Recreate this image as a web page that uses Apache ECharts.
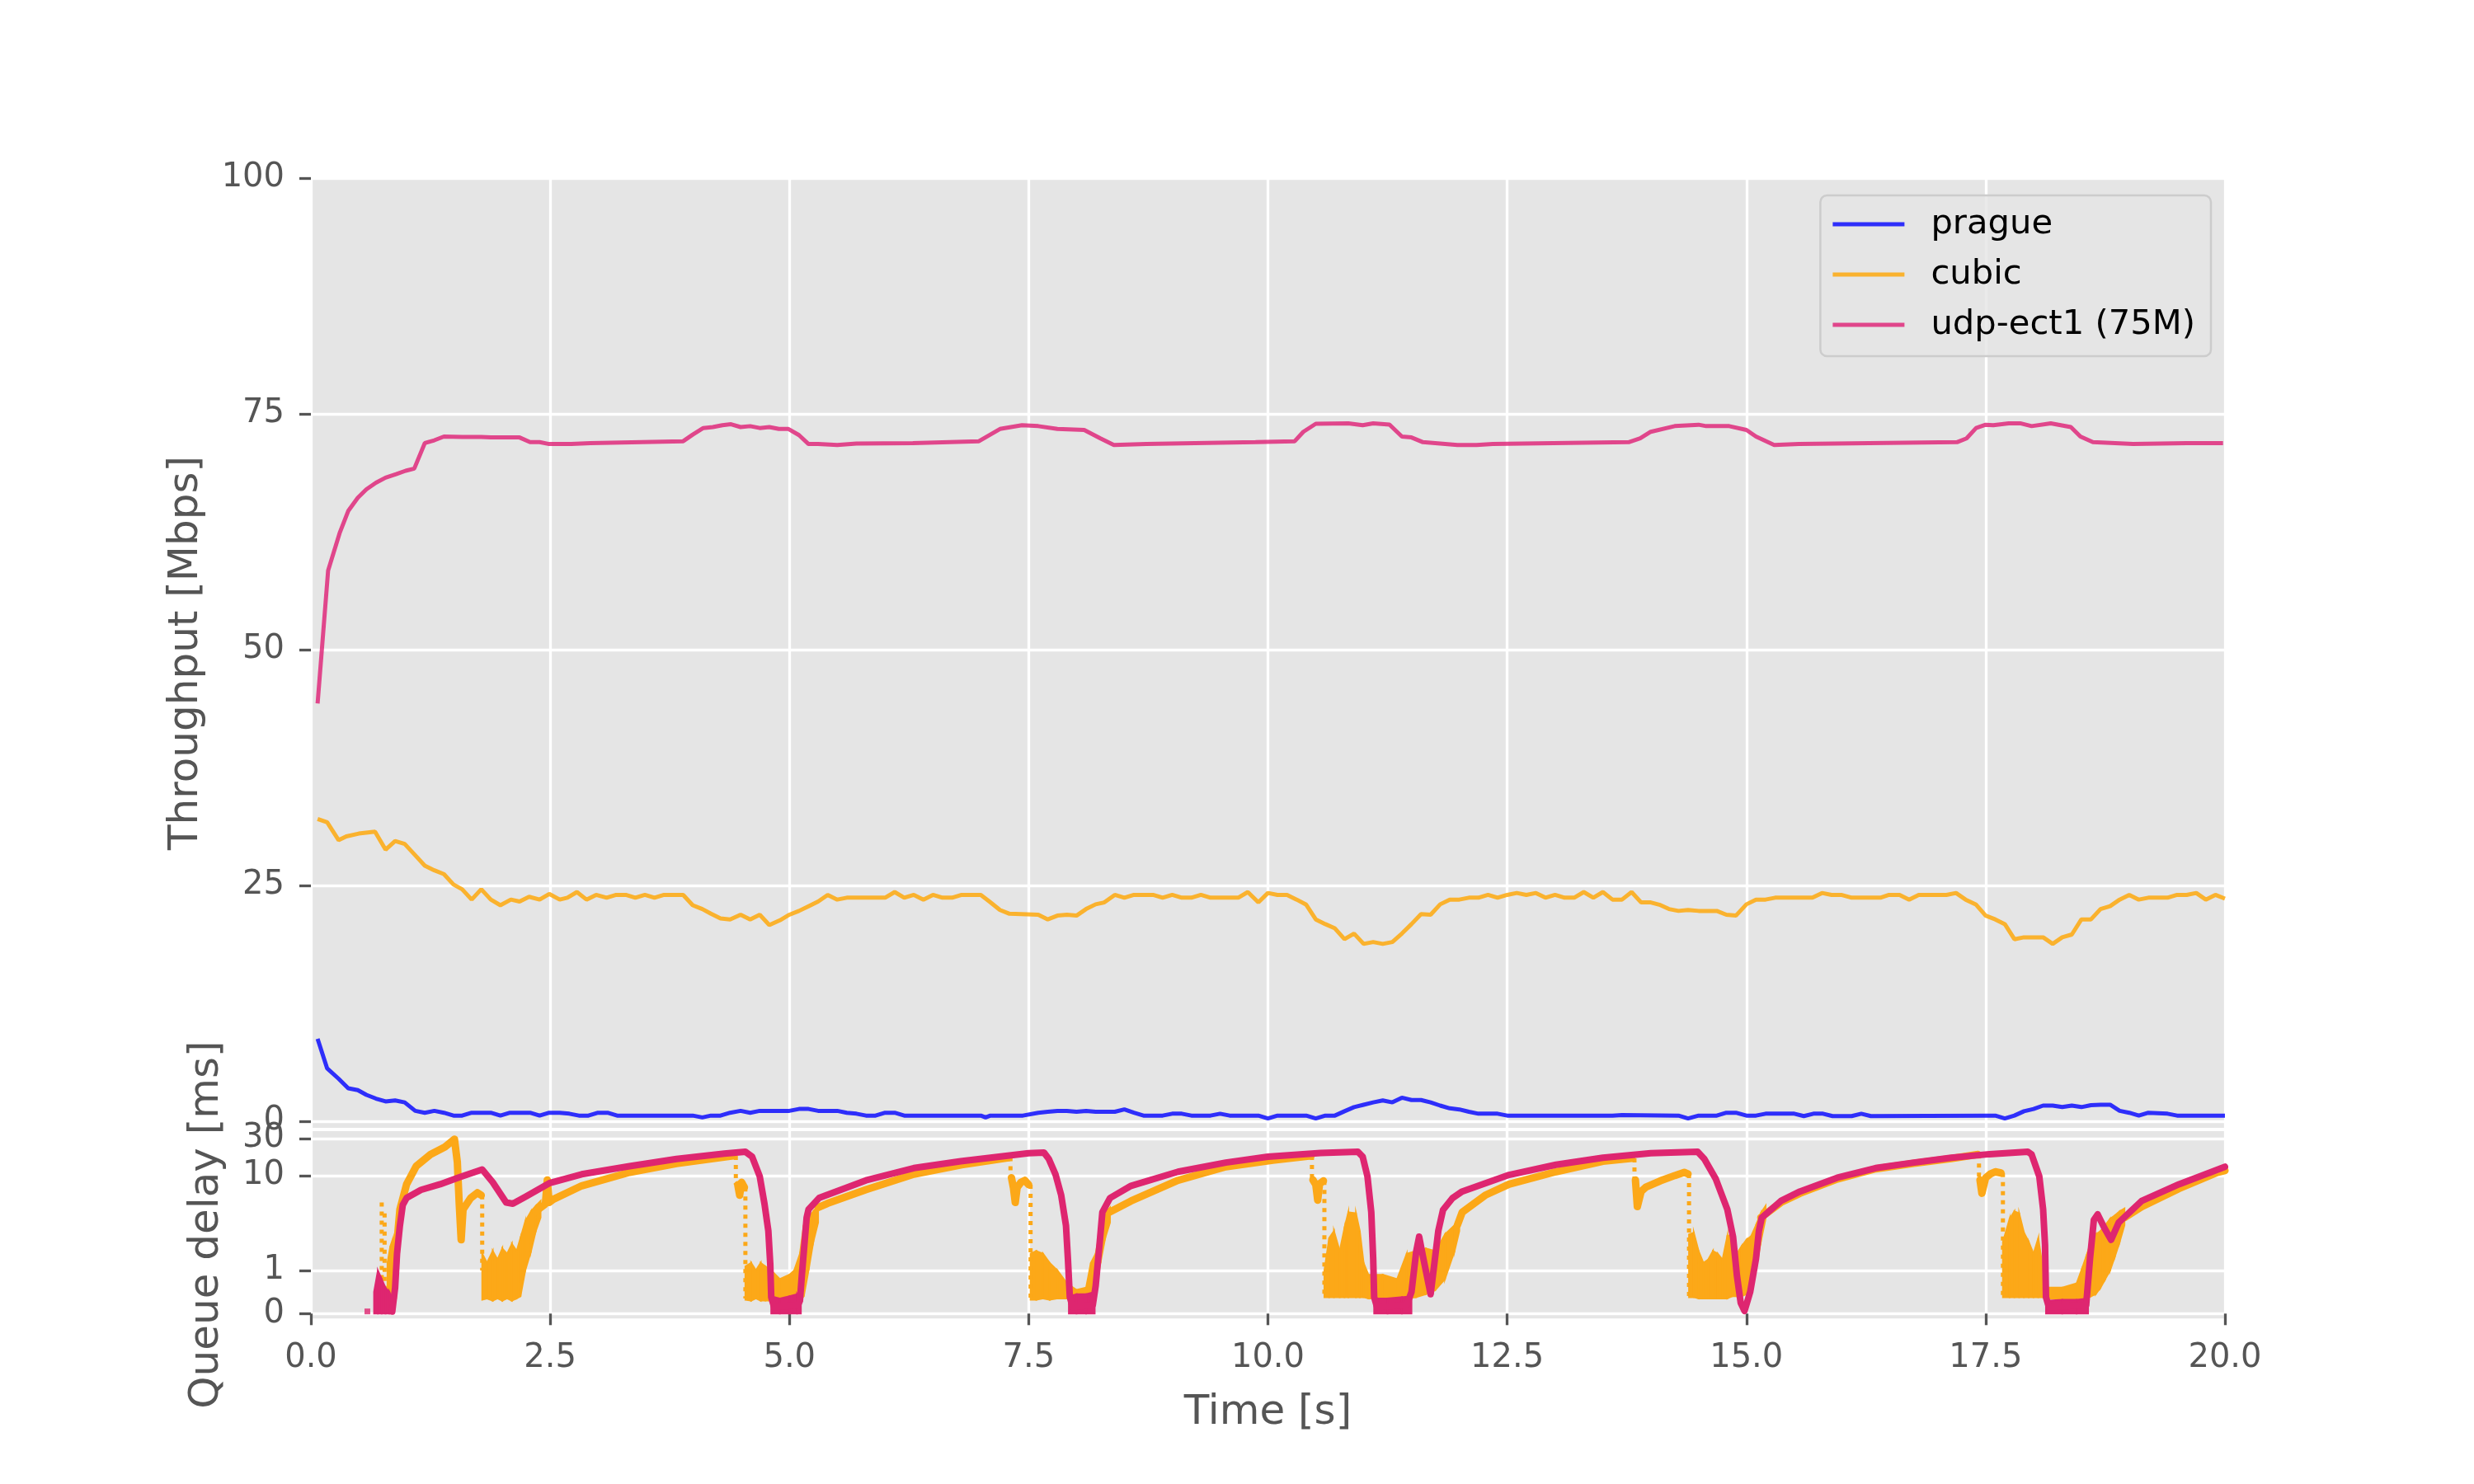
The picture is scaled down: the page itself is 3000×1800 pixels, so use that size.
<!DOCTYPE html>
<html><head><meta charset="utf-8">
<script src="https://cdn.jsdelivr.net/npm/echarts@6/dist/echarts.min.js"></script>
<style>html,body{margin:0;padding:0;background:#fff}#c{width:3000px;height:1800px}</style>
</head><body><div id="c"></div>
<script>
// ---------------- data ----------------
const timeTicks = [0, 2.5, 5, 7.5, 10, 12.5, 15, 17.5, 20];
const throughputTicks = [0, 25, 50, 75, 100];
const delayTicks = [0, 1, 10, 30];
const seriesNames = ['prague', 'cubic', 'udp-ect1 (75M)'];

const pragueThroughput = [[0.07,8.74],[0.17,5.6],[0.29,4.5],[0.39,3.5],[0.49,3.3],[0.58,2.8],[0.68,2.4],[0.78,2.1],[0.88,2.2],[0.98,2.0],[1.09,1.1],[1.19,0.9],[1.29,1.1],[1.39,0.9],[1.49,0.6],[1.58,0.6],[1.68,0.9],[1.78,0.9],[1.88,0.9],[1.98,0.6],[2.08,0.9],[2.18,0.9],[2.29,0.9],[2.39,0.6],[2.49,0.9],[2.6,0.9],[2.7,0.8],[2.8,0.6],[2.9,0.6],[3.0,0.9],[3.1,0.9],[3.2,0.6],[3.5,0.6],[3.99,0.6],[4.09,0.4],[4.18,0.6],[4.28,0.6],[4.38,0.9],[4.49,1.1],[4.59,0.9],[4.69,1.1],[4.8,1.1],[5.0,1.1],[5.1,1.3],[5.2,1.3],[5.3,1.1],[5.5,1.1],[5.6,0.9],[5.7,0.8],[5.8,0.6],[5.9,0.6],[6.0,0.9],[6.1,0.9],[6.2,0.6],[7.0,0.6],[7.05,0.4],[7.1,0.6],[7.44,0.6],[7.6,0.9],[7.7,1.0],[7.8,1.1],[7.9,1.1],[8.0,1.0],[8.1,1.1],[8.2,1.0],[8.4,1.0],[8.5,1.25],[8.6,0.9],[8.7,0.6],[8.9,0.6],[9.0,0.8],[9.1,0.8],[9.2,0.6],[9.4,0.6],[9.5,0.8],[9.6,0.6],[9.9,0.6],[10.0,0.3],[10.1,0.6],[10.4,0.6],[10.5,0.3],[10.6,0.6],[10.7,0.6],[10.8,1.06],[10.9,1.5],[11.0,1.75],[11.1,2.0],[11.2,2.2],[11.3,2.0],[11.4,2.5],[11.5,2.25],[11.6,2.25],[11.7,2.0],[11.8,1.66],[11.9,1.37],[12.0,1.25],[12.1,1.0],[12.2,0.8],[12.3,0.8],[12.4,0.8],[12.5,0.6],[13.6,0.6],[13.7,0.65],[14.29,0.6],[14.39,0.3],[14.5,0.6],[14.69,0.6],[14.79,0.9],[14.89,0.9],[15.0,0.6],[15.1,0.6],[15.2,0.8],[15.5,0.8],[15.6,0.55],[15.7,0.8],[15.8,0.8],[15.9,0.55],[16.1,0.55],[16.2,0.8],[16.3,0.55],[17.5,0.6],[17.6,0.6],[17.7,0.3],[17.8,0.6],[17.9,1.06],[18.0,1.3],[18.1,1.66],[18.2,1.66],[18.3,1.5],[18.4,1.66],[18.5,1.5],[18.6,1.7],[18.7,1.75],[18.8,1.75],[18.9,1.1],[19.0,0.9],[19.1,0.6],[19.2,0.9],[19.4,0.8],[19.5,0.6],[20.0,0.6]];

const cubicThroughput = [[0.07,32.05],[0.17,31.7],[0.29,29.8],[0.37,30.2],[0.5,30.5],[0.67,30.7],[0.78,28.8],[0.88,29.7],[0.98,29.4],[1.09,28.2],[1.19,27.1],[1.29,26.6],[1.39,26.2],[1.49,25.1],[1.58,24.6],[1.68,23.5],[1.78,24.6],[1.88,23.5],[1.98,22.9],[2.09,23.5],[2.18,23.3],[2.28,23.8],[2.39,23.5],[2.49,24.1],[2.6,23.5],[2.68,23.7],[2.78,24.3],[2.88,23.5],[2.98,24.0],[3.09,23.7],[3.19,24.0],[3.29,24.0],[3.39,23.7],[3.49,24.0],[3.59,23.7],[3.69,24.0],[3.89,24.0],[3.99,22.9],[4.09,22.5],[4.18,22.0],[4.28,21.5],[4.38,21.4],[4.49,21.9],[4.59,21.4],[4.69,21.9],[4.79,20.8],[4.9,21.3],[5.0,21.9],[5.1,22.3],[5.2,22.8],[5.3,23.3],[5.4,24.0],[5.5,23.5],[5.6,23.7],[6.0,23.7],[6.1,24.3],[6.2,23.7],[6.3,24.0],[6.4,23.5],[6.5,24.0],[6.6,23.7],[6.7,23.7],[6.8,24.0],[7.0,24.0],[7.09,23.3],[7.2,22.4],[7.3,22.0],[7.6,21.9],[7.7,21.4],[7.8,21.8],[7.9,21.9],[8.0,21.8],[8.1,22.5],[8.2,23.0],[8.29,23.2],[8.4,24.0],[8.5,23.7],[8.6,24.0],[8.8,24.0],[8.9,23.7],[9.0,24.0],[9.1,23.7],[9.2,23.7],[9.3,24.0],[9.4,23.7],[9.69,23.7],[9.79,24.3],[9.9,23.2],[10.0,24.2],[10.1,24.0],[10.2,24.0],[10.3,23.5],[10.4,22.96],[10.5,21.4],[10.6,20.9],[10.7,20.45],[10.8,19.3],[10.9,19.9],[11.0,18.8],[11.1,19.0],[11.2,18.8],[11.3,19.0],[11.4,19.9],[11.5,20.9],[11.6,21.97],[11.7,21.9],[11.8,23.0],[11.9,23.5],[12.0,23.5],[12.1,23.7],[12.2,23.7],[12.3,24.0],[12.4,23.7],[12.5,24.0],[12.6,24.2],[12.7,24.0],[12.8,24.2],[12.9,23.7],[13.0,24.0],[13.1,23.7],[13.2,23.7],[13.3,24.3],[13.4,23.7],[13.5,24.3],[13.6,23.5],[13.7,23.5],[13.8,24.3],[13.9,23.2],[14.0,23.2],[14.09,22.96],[14.19,22.5],[14.29,22.3],[14.39,22.4],[14.5,22.3],[14.69,22.3],[14.79,21.9],[14.89,21.8],[15.0,23.0],[15.1,23.5],[15.2,23.5],[15.3,23.7],[15.69,23.7],[15.79,24.2],[15.89,24.0],[15.99,24.0],[16.1,23.7],[16.4,23.7],[16.49,24.0],[16.6,24.0],[16.7,23.5],[16.8,24.0],[17.09,24.0],[17.19,24.2],[17.29,23.5],[17.4,22.96],[17.5,21.8],[17.6,21.4],[17.7,20.9],[17.8,19.3],[17.9,19.5],[18.1,19.5],[18.2,18.8],[18.3,19.5],[18.4,19.8],[18.5,21.4],[18.6,21.4],[18.7,22.5],[18.8,22.8],[18.9,23.5],[19.0,24.0],[19.1,23.5],[19.2,23.7],[19.4,23.7],[19.5,24.0],[19.6,24.0],[19.7,24.2],[19.8,23.5],[19.9,24.0],[20.0,23.6]];

const udpThroughput = [[0.07,44.3],[0.18,58.4],[0.3,62.35],[0.39,64.7],[0.49,66.1],[0.58,67.0],[0.68,67.7],[0.78,68.24],[0.89,68.6],[0.99,68.97],[1.08,69.2],[1.19,71.9],[1.29,72.2],[1.39,72.6],[1.58,72.55],[1.78,72.55],[1.88,72.5],[2.18,72.5],[2.29,72.0],[2.39,72.0],[2.49,71.8],[2.72,71.8],[2.92,71.9],[3.89,72.1],[3.99,72.8],[4.1,73.5],[4.2,73.6],[4.3,73.8],[4.39,73.9],[4.49,73.6],[4.59,73.7],[4.69,73.5],[4.79,73.6],[4.89,73.4],[4.99,73.4],[5.1,72.75],[5.2,71.8],[5.3,71.8],[5.5,71.7],[5.7,71.85],[6.29,71.9],[6.98,72.1],[7.2,73.4],[7.43,73.8],[7.6,73.7],[7.8,73.4],[8.08,73.3],[8.25,72.4],[8.39,71.7],[8.73,71.8],[9.87,72.0],[10.28,72.1],[10.37,73.1],[10.5,73.95],[10.84,74.0],[10.99,73.8],[11.1,74.0],[11.27,73.86],[11.4,72.6],[11.5,72.5],[11.62,72.0],[11.98,71.7],[12.18,71.7],[12.35,71.8],[13.77,72.0],[13.89,72.4],[14.0,73.1],[14.25,73.7],[14.5,73.85],[14.58,73.7],[14.82,73.7],[15.0,73.3],[15.1,72.6],[15.29,71.7],[15.55,71.8],[17.2,72.0],[17.3,72.4],[17.4,73.5],[17.5,73.85],[17.58,73.8],[17.74,74.0],[17.86,74.0],[17.98,73.7],[18.18,74.0],[18.39,73.6],[18.49,72.6],[18.62,72.0],[19.04,71.8],[19.6,71.9],[19.98,71.9]];

// queue delay [ms] of the udp-ect1 flow (dense band of samples)
const udpDelay = [[0.85,0.05],[0.88,0.6],[0.9,1.5],[0.93,2.96],[0.96,4.9],[1.0,5.8],[1.15,7.06],[1.35,8.1],[1.55,9.6],[1.79,12.0],[1.9,8.5],[2.04,5.2],[2.11,5.05],[2.24,5.96],[2.49,8.3],[2.83,10.4],[3.33,13.2],[3.82,16.4],[4.32,19.2],[4.54,20.3],[4.61,17.5],[4.69,9.8],[4.74,5.0],[4.78,2.6],[4.8,1.16],[4.81,0.38],[4.84,0.15],[5.09,0.2],[5.11,0.3],[5.13,0.89],[5.18,3.6],[5.2,4.4],[5.31,5.8],[5.8,8.9],[6.3,12.5],[6.79,15.3],[7.5,19.4],[7.66,19.8],[7.71,16.4],[7.78,10.4],[7.84,6.2],[7.89,2.96],[7.91,1.33],[7.93,0.38],[7.96,0.15],[8.17,0.2],[8.2,0.64],[8.24,1.86],[8.27,4.1],[8.35,5.8],[8.57,7.8],[9.06,11.2],[9.56,14.7],[10.0,17.5],[10.55,19.6],[10.94,20.3],[10.99,17.5],[11.04,9.8],[11.08,4.1],[11.1,1.33],[11.11,0.38],[11.14,0.15],[11.45,0.2],[11.5,0.5],[11.55,1.6],[11.58,2.27],[11.62,1.4],[11.7,0.45],[11.74,1.2],[11.78,2.6],[11.83,4.35],[11.93,5.8],[12.03,6.8],[12.52,10.2],[13.01,13.8],[13.5,17.0],[14.0,19.4],[14.49,20.3],[14.56,16.4],[14.68,9.2],[14.8,4.4],[14.86,2.27],[14.9,0.89],[14.94,0.25],[14.98,0.06],[15.04,0.51],[15.1,1.33],[15.13,2.6],[15.16,3.6],[15.36,5.4],[15.56,6.8],[15.95,9.5],[16.35,12.5],[16.75,14.7],[17.14,17.0],[17.54,18.9],[17.94,20.3],[17.98,18.7],[18.06,9.8],[18.1,4.4],[18.12,1.86],[18.13,0.38],[18.16,0.15],[18.55,0.2],[18.59,1.33],[18.63,3.4],[18.67,3.9],[18.74,2.8],[18.81,2.1],[18.89,3.2],[19.13,5.4],[19.52,8.1],[20.0,13.0]];
const udpDelayDots = [[0.59,0.05]];
// [time, low, high] spread of the udp-ect1 samples near an empty queue
const udpDelaySpread = [[0.66,0,0.5],[0.7,0,1.0],[0.74,0,0.8],[0.78,0,0.6],[0.82,0,0.5],[0.86,0,0.3],null,
 [4.81,0,0.4],[4.9,0,0.35],[5.0,0,0.4],[5.08,0,0.45],[5.12,0,0.3],null,
 [7.92,0,0.4],[8.0,0,0.45],[8.1,0,0.45],[8.19,0,0.5],null,
 [11.11,0,0.35],[11.25,0,0.35],[11.4,0,0.38],[11.5,0,0.4],null,
 [18.13,0,0.3],[18.3,0,0.32],[18.45,0,0.32],[18.57,0,0.35]];

// queue delay of the cubic flow
const cubicDelay = [[0.86,0.35],[0.9,2.0],[0.93,4.4],[1.0,8.1],[1.1,13.2],[1.25,18.7],[1.4,23.3],[1.5,29.5],[1.53,15],[1.55,5.0],[1.57,2.1],[1.59,4.4],[1.67,5.8],[1.74,6.6],[1.78,6.2],null,
 [2.35,4.2],[2.45,5.0],[2.47,9.0],[2.49,5.2],[2.53,5.6],[2.83,7.8],[3.33,11.0],[3.82,14.3],[4.41,17.9],null,
 [4.46,8.0],[4.48,6.2],[4.5,8.5],[4.53,7.5],null,
 [5.3,4.6],[5.4,5.1],[5.8,7.1],[6.3,10.4],[6.8,13.8],[7.29,17.0],null,
 [7.32,9.5],[7.34,7.5],[7.36,5.2],[7.38,7.5],[7.42,8.5],[7.46,8.9],[7.5,8.0],null,
 [8.32,4.0],[8.57,5.4],[9.06,8.9],[9.56,13.0],[10.05,15.8],[10.45,17.9],null,
 [10.47,9.0],[10.5,8.0],[10.52,5.5],[10.54,8.2],[10.58,8.8],null,
 [11.98,3.0],[12.03,4.1],[12.27,6.2],[12.52,8.1],[13.01,11.2],[13.5,15.3],[13.8,16.7],null,
 [13.84,9.0],[13.86,4.7],[13.9,6.8],[13.95,7.55],[14.1,8.8],[14.25,10.0],[14.35,11.0],[14.39,10.5],null,
 [15.15,3.6],[15.36,5.2],[15.56,6.5],[15.95,9.2],[16.35,12.2],[16.75,14.4],[17.14,16.6],[17.42,18.7],null,
 [17.44,9.0],[17.46,6.5],[17.5,9.5],[17.55,10.5],[17.6,11.2],[17.66,10.8],null,
 [18.95,3.6],[19.13,4.7],[19.52,7.3],[19.92,11.0],[20.0,11.6]];
// [time, top, bottom] sparse vertical runs of cubic samples
const cubicDelayDrops = [[0.74,5.2,0.25],[0.77,4.0,0.25],[1.79,6.2,1.0],[4.44,17.9,8.0],[4.54,7.5,0.35],[7.31,17.3,9.5],[7.52,8.0,0.35],[10.46,17.9,9.0],[10.59,8.8,0.38],[13.83,16.7,9.0],[14.4,10.5,0.38],[17.43,18.7,9.0],[17.68,10.8,0.38]];
// [time, low, high] spread of the noisy cubic samples
const cubicDelaySpread = [[0.8,0.25,1.2],[0.83,0.25,1.8],[0.86,0.3,2.2],[0.88,0.4,1.5],null,
 [1.79,0.32,1.5],[1.84,0.35,1.2],[1.9,0.3,1.6],[1.95,0.35,1.3],[2.0,0.3,1.7],[2.05,0.35,1.5],[2.1,0.3,1.9],[2.15,0.35,1.6],[2.19,0.4,2.2],[2.24,1.0,3.3],[2.3,1.6,4.2],[2.35,2.6,4.8],[2.4,3.6,5.4],null,
 [4.54,0.32,1.1],[4.6,0.3,1.2],[4.65,0.35,1.0],[4.7,0.3,1.2],[4.75,0.3,1.1],[4.81,0.3,1.0],[4.9,0.3,0.8],[5.0,0.3,0.9],[5.05,0.32,1.0],[5.11,0.3,1.5],[5.15,0.4,3.0],[5.2,1.0,3.6],[5.25,2.0,4.2],[5.3,3.2,4.8],null,
 [7.52,0.32,1.5],[7.58,0.32,1.6],[7.65,0.35,1.5],[7.72,0.32,1.2],[7.8,0.35,1.0],[7.9,0.35,0.7],[8.0,0.35,0.55],[8.1,0.35,0.6],[8.15,0.35,1.2],[8.2,0.6,1.5],[8.25,1.2,2.8],[8.3,2.2,4.0],[8.35,3.2,4.6],null,
 [10.59,0.38,1.0],[10.64,0.38,2.2],[10.69,0.38,2.6],[10.75,0.38,1.6],[10.8,0.38,2.8],[10.84,0.38,4.1],[10.92,0.38,4.0],[10.96,0.38,2.6],[11.0,0.38,1.2],[11.05,0.35,0.9],[11.2,0.35,0.9],[11.35,0.35,0.8],[11.45,0.35,1.5],[11.55,0.38,1.6],[11.65,0.45,1.7],[11.75,0.55,1.6],[11.85,0.8,2.4],[11.95,1.6,3.0],[12.0,2.6,3.6],null,
 [14.4,0.38,2.4],[14.45,0.38,2.5],[14.5,0.35,1.6],[14.55,0.35,1.2],[14.6,0.35,1.3],[14.65,0.35,1.6],[14.7,0.35,1.5],[14.75,0.35,1.3],[14.8,0.35,2.3],[14.85,0.4,2.4],[14.9,0.4,1.5],[14.95,0.4,1.8],[15.0,0.45,2.1],[15.05,0.5,2.3],[15.1,1.0,3.0],[15.15,2.0,4.0],[15.2,3.5,4.8],null,
 [17.68,0.38,2.0],[17.75,0.38,3.5],[17.8,0.38,4.2],[17.85,0.38,4.0],[17.9,0.38,2.5],[17.95,0.38,2.0],[18.0,0.38,1.5],[18.05,0.38,2.2],[18.1,0.38,1.0],[18.15,0.35,0.6],[18.3,0.35,0.6],[18.45,0.35,0.7],[18.5,0.35,1.0],[18.55,0.35,1.4],[18.6,0.4,2.0],[18.65,0.45,2.4],[18.7,0.6,2.6],[18.75,0.8,3.0],[18.8,1.0,3.5],[18.85,1.4,3.8],[18.9,2.0,4.2],[18.95,3.0,4.5]];

// ---------------- scale of the queue-delay panel (linear below 1 ms, log above) ----------------
function delayScale(v) {
  if (v <= 1) return 52.4 * v;
  if (v <= 10) return 52.4 + 115 * Math.log10(v);
  return 167.4 + 44.9 * Math.log10(v / 10) / Math.log10(3);
}
const delayTickPos = delayTicks.map(delayScale);

// ---------------- styles ----------------
const FONT = 'DejaVu Sans';
const C_PRAGUE = 'rgba(0,0,255,0.8)';
const C_CUBIC = 'rgba(255,165,0,0.8)';
const C_UDP = 'rgba(222,30,116,0.8)';
const C_CUBIC_PT = 'rgba(252,168,24,1)';
const C_UDP_PT = 'rgba(222,38,112,1)';
const TICK_FONT = 40;
const LABEL_FONT = 50;

function splitGroups(arr) {
  const out = [[]];
  arr.forEach(p => { if (p === null) out.push([]); else out[out.length - 1].push(p); });
  return out.filter(g => g.length);
}

function spreadSeries(name, arr, color, z) {
  const segs = [];
  splitGroups(arr).forEach(g => {
    for (let i = 0; i < g.length - 1; i++) {
      segs.push([g[i][0], delayScale(g[i][1]), delayScale(g[i][2]), g[i + 1][0], delayScale(g[i + 1][1]), delayScale(g[i + 1][2])]);
    }
  });
  return {
    type: 'custom', name, xAxisIndex: 1, yAxisIndex: 1, z, silent: true,
    data: segs, encode: { x: [0, 3], y: [1, 2, 4, 5] },
    renderItem(params, api) {
      const a = api.coord([api.value(0), api.value(1)]);
      const b = api.coord([api.value(3), api.value(4)]);
      const c = api.coord([api.value(3), api.value(5)]);
      const d = api.coord([api.value(0), api.value(2)]);
      return { type: 'polygon', shape: { points: [a, b, c, d] }, style: { fill: color, stroke: color, lineWidth: 2 } };
    }
  };
}

function delayLineSeries(name, arr, color, width, z) {
  return splitGroups(arr).map(g => ({
    type: 'line', name, xAxisIndex: 1, yAxisIndex: 1, z, silent: true,
    symbol: 'none', data: g.map(p => [p[0], delayScale(p[1])]),
    lineStyle: { color, width, cap: 'round', join: 'round' }
  }));
}

const dropData = [];
cubicDelayDrops.forEach(d => { dropData.push([d[0], delayScale(d[1])], [d[0], delayScale(d[2])], [d[0], null]); });

const axisLabelStyle = { color: '#555555', fontFamily: FONT, fontSize: TICK_FONT };
const tickStyle = { show: true, length: 14, lineStyle: { color: '#555555', width: 3.3 } };
const gridLine = { show: true, lineStyle: { color: '#ffffff', width: 3.3 } };

const option = {
  animation: false,
  backgroundColor: '#ffffff',
  textStyle: { fontFamily: FONT },
  grid: [
    { left: 377, right: 302, top: 216, height: 1152, show: true, backgroundColor: '#E5E5E5', borderWidth: 0 },
    { left: 377, right: 302, top: 1372, height: 227.3, show: true, backgroundColor: '#E5E5E5', borderWidth: 0 }
  ],
  legend: {
    data: seriesNames, orient: 'vertical', right: 319, top: 237,
    icon: 'rect', padding: [13, 19, 16, 15], itemWidth: 87, itemHeight: 5, itemGap: 17,
    textStyle: { fontSize: 41.7, lineHeight: 44, color: '#000000', fontFamily: FONT, padding: [0, 0, 0, 27] },
    backgroundColor: 'rgba(229,229,229,0.8)', borderColor: '#cccccc', borderWidth: 2.5, borderRadius: 8
  },
  xAxis: [
    { type: 'value', gridIndex: 0, min: 0, max: 20, interval: 2.5,
      axisLine: { show: false }, axisTick: { show: false }, axisLabel: { show: false }, splitLine: gridLine },
    { type: 'value', gridIndex: 1, min: 0, max: 20, interval: 2.5,
      axisLine: { show: false }, axisTick: tickStyle, splitLine: gridLine,
      axisLabel: Object.assign({ margin: 28, formatter: v => v.toFixed(1) }, axisLabelStyle),
      name: 'Time [s]', nameLocation: 'middle', nameGap: 90,
      nameTextStyle: { color: '#555555', fontSize: LABEL_FONT, fontFamily: FONT } }
  ],
  yAxis: [
    { type: 'value', gridIndex: 0, min: -0.7, max: 100,
      axisLine: { show: false },
      axisTick: Object.assign({ customValues: throughputTicks }, tickStyle),
      axisLabel: Object.assign({ customValues: throughputTicks, margin: 32, formatter: v => String(Math.round(v)) }, axisLabelStyle),
      splitLine: gridLine,
      name: 'Throughput [Mbps]', nameLocation: 'middle', nameGap: 126,
      nameTextStyle: { color: '#555555', fontSize: LABEL_FONT, fontFamily: FONT } },
    { type: 'value', gridIndex: 1, min: -6, max: 221.3,
      axisLine: { show: false },
      axisTick: Object.assign({ customValues: delayTickPos }, tickStyle),
      axisLabel: Object.assign({ customValues: delayTickPos, margin: 32, formatter: v => {
        const i = delayTickPos.findIndex(p => Math.abs(p - v) < 1e-6); return i >= 0 ? String(delayTicks[i]) : ''; } }, axisLabelStyle),
      splitLine: gridLine,
      name: 'Queue delay [ms]', nameLocation: 'middle', nameGap: 101,
      nameTextStyle: { color: '#555555', fontSize: LABEL_FONT, fontFamily: FONT } }
  ],
  series: [
    { type: 'line', name: seriesNames[0], xAxisIndex: 0, yAxisIndex: 0, symbol: 'none', data: pragueThroughput,
      lineStyle: { color: C_PRAGUE, width: 5 }, itemStyle: { color: C_PRAGUE }, z: 3 },
    { type: 'line', name: seriesNames[1], xAxisIndex: 0, yAxisIndex: 0, symbol: 'none', data: cubicThroughput,
      lineStyle: { color: C_CUBIC, width: 5 }, itemStyle: { color: C_CUBIC }, z: 3 },
    { type: 'line', name: seriesNames[2], xAxisIndex: 0, yAxisIndex: 0, symbol: 'none', data: udpThroughput,
      lineStyle: { color: C_UDP, width: 5 }, itemStyle: { color: C_UDP }, z: 3 },
    spreadSeries('cubic delay spread', cubicDelaySpread, C_CUBIC_PT, 3),
    { type: 'line', name: 'cubic delay drops', xAxisIndex: 1, yAxisIndex: 1, symbol: 'none', silent: true, z: 3,
      data: dropData, connectNulls: false, lineStyle: { color: C_CUBIC_PT, width: 5, type: [5, 6] } },
    ...delayLineSeries('cubic delay', cubicDelay, C_CUBIC_PT, 9, 4),
    spreadSeries('udp delay spread', udpDelaySpread, C_UDP_PT, 5),
    ...delayLineSeries('udp delay', udpDelay, C_UDP_PT, 8, 6),
    { type: 'scatter', name: 'udp delay dots', xAxisIndex: 1, yAxisIndex: 1, silent: true, z: 6,
      symbol: 'rect', symbolSize: 7, data: udpDelayDots.map(p => [p[0], delayScale(p[1])]), itemStyle: { color: C_UDP_PT } }
  ]
};

const chart = echarts.init(document.getElementById('c'), null, { renderer: 'canvas' });
chart.setOption(option);
</script>
</body></html>
